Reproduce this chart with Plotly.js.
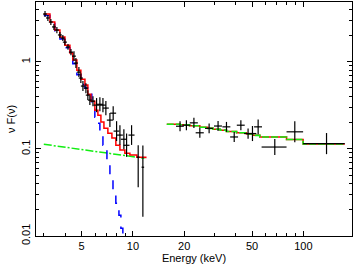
<!DOCTYPE html>
<html><head><meta charset="utf-8">
<script src="https://cdn.plot.ly/plotly-3.0.1.min.js"></script>
<style>html,body{margin:0;padding:0;background:#fff}#c{width:354px;height:265px}</style>
</head><body><div id="c"></div>
<script>
// Low-energy data
const lowE = [3.05,3.17,3.30,3.44,3.58,3.73,3.88,3.99,4.16,4.33,4.51,4.63,4.82,4.95,5.09,5.30,5.44,5.59,5.83,6.12,6.40,6.67,6.94,7.33,7.66,8.02,8.39,8.85,9.18,9.82,10.74,11.44];
const lowF = [3.53,3.18,2.86,2.51,2.31,2.03,1.87,1.68,1.48,1.29,1.16,0.966,0.761,0.650,0.526,0.498,0.414,0.363,0.353,0.318,0.325,0.318,0.294,0.214,0.257,0.160,0.144,0.129,0.110,0.144,0.0803,0.0616];
const lowErrUp = [0.29,0.26,0.24,0.21,0.19,0.17,0.16,0.14,0.12,0.11,0.16,0.14,0.11,0.09,0.074,0.07,0.058,0.051,0.05,0.065,0.066,0.065,0.06,0.044,0.052,0.048,0.043,0.039,0.04,0.043,0.030,0.048];
const lowErrDn = [0.27,0.24,0.22,0.19,0.18,0.16,0.14,0.13,0.11,0.10,0.14,0.12,0.094,0.08,0.065,0.062,0.051,0.045,0.044,0.054,0.055,0.054,0.05,0.036,0.044,0.037,0.033,0.030,0.029,0.033,0.044,0.045];
const lowEw = [0.08,0.08,0.09,0.09,0.1,0.1,0.1,0.11,0.11,0.12,0.12,0.13,0.13,0.14,0.14,0.15,0.15,0.15,0.16,0.25,0.26,0.27,0.28,0.3,0.31,0.32,0.34,0.36,0.37,0.4,0.2,0.2];

// High-energy data
const hiE = [18.9,20.6,22.8,24.7,28.0,31.6,35.4,39.3,43.0,47.4,50.3,54.3,68.0,89.1,136.8];
const hiF = [0.182,0.187,0.199,0.153,0.172,0.183,0.179,0.137,0.187,0.150,0.150,0.179,0.105,0.157,0.115];
const hiErrUp = [0.026,0.026,0.028,0.021,0.024,0.026,0.025,0.019,0.026,0.021,0.033,0.039,0.025,0.05,0.037];
const hiErrDn = [0.023,0.023,0.025,0.019,0.021,0.023,0.022,0.017,0.023,0.019,0.027,0.032,0.020,0.038,0.028];
const hiEwPlus = [1.0,1.1,1.25,1.35,1.5,1.7,1.9,2.1,2.3,2.5,2.7,2.9,11.7,10.6,38.2];
const hiEwMinus = [1.0,1.1,1.25,1.35,1.5,1.7,1.9,2.1,2.3,2.5,2.7,2.9,11.1,9.4,37.1];

// Models
const redE = [3.0,3.26,3.48,3.73,3.99,4.27,4.44,4.69,4.95,5.23,5.44,5.67,5.98,6.23,6.49,6.76,7.13,7.53,7.94,8.39,8.97,9.60,10.55,11.9];
const redF = [3.53,2.86,2.31,1.92,1.55,1.26,1.05,0.80,0.63,0.54,0.425,0.353,0.278,0.244,0.203,0.173,0.151,0.133,0.110,0.097,0.089,0.085,0.080,0.078];
const blueE = [3.0,3.26,3.48,3.73,3.99,4.27,4.44,4.69,4.95,5.23,5.44,5.74,5.98,6.15,6.40,6.67,7.04,7.33,7.64,7.94,8.28,8.50,8.73];
const blueF = [3.40,2.75,2.20,1.82,1.45,1.16,0.95,0.71,0.55,0.50,0.437,0.318,0.231,0.197,0.144,0.110,0.074,0.050,0.0335,0.0238,0.0173,0.0123,0.0094];
const greenLowE = [3.0,5.0,8.0,11.7];
const greenLowF = [0.113,0.098,0.087,0.078];
const hiModelE = [15.8,18.9,21.5,24.7,27.5,29.6,32.5,35.4,40.6,46.4,50.5,55.6,79.7,99.7,175];
const hiModelF = [0.192,0.189,0.184,0.177,0.172,0.168,0.164,0.158,0.153,0.148,0.143,0.137,0.128,0.114,0.114];

// Axis ticks
const xTickVals = [5,10,20,50,100];
const xTickText = ['5','10','20','50','100'];
const xMinor = [3,4,6,7,8,9,30,40,60,70,80,90];
const yTickVals = [0.01,0.1,1];
const yTickText = ['0.01','0.1','1'];
const yMinor = [0.02,0.03,0.04,0.05,0.06,0.07,0.08,0.09,0.2,0.3,0.4,0.5,0.6,0.7,0.8,0.9,2,3,4];

const RED='#ff0000', BLUE='#0000ff', GREEN='#11ee11';
const traces = [
  {x:greenLowE,y:greenLowF,mode:'lines',line:{color:GREEN,width:1.5,dash:'8px,2px,2px,2px'},hoverinfo:'skip'},
  {x:blueE,y:blueF,mode:'lines',line:{color:BLUE,width:1.5,dash:'dash',shape:'hv'},hoverinfo:'skip'},
  {x:redE,y:redF,mode:'lines',line:{color:RED,width:1.5,shape:'hv'},hoverinfo:'skip'},
  {x:hiModelE,y:hiModelF,mode:'lines',line:{color:RED,width:1.5,shape:'hv'},hoverinfo:'skip'},
  {x:hiModelE,y:hiModelF,mode:'lines',line:{color:GREEN,width:1.6,shape:'hv',dash:'7px,2px'},hoverinfo:'skip'},
  {x:lowE,y:lowF,mode:'markers',marker:{size:1,color:'#000'},
   error_y:{type:'data',symmetric:false,array:lowErrUp,arrayminus:lowErrDn,color:'#000',thickness:1.2,width:0},
   error_x:{type:'data',array:lowEw,color:'#000',thickness:1.2,width:0}},
  {x:hiE,y:hiF,mode:'markers',marker:{size:1,color:'#000'},
   error_y:{type:'data',symmetric:false,array:hiErrUp,arrayminus:hiErrDn,color:'#000',thickness:1.2,width:0},
   error_x:{type:'data',symmetric:false,array:hiEwPlus,arrayminus:hiEwMinus,color:'#000',thickness:1.2,width:0}}
];
const font = {family:'Liberation Sans, Arial, sans-serif',size:11,color:'#000'};
const layout = {
  width:354,height:265,showlegend:false,
  margin:{l:36,r:2,t:2,b:29,pad:0},
  paper_bgcolor:'#fff',plot_bgcolor:'#fff',font:font,
  xaxis:{type:'log',range:[Math.log10(2.7),Math.log10(193)],tickvals:xTickVals,ticktext:xTickText,
    ticks:'inside',ticklen:5,tickwidth:1,tickcolor:'#000',showline:true,linecolor:'#000',linewidth:1.2,mirror:'allticks',
    showgrid:false,zeroline:false,tickfont:font,
    minor:{tickvals:xMinor,ticks:'inside',ticklen:3,tickwidth:1,tickcolor:'#000',showgrid:false},
    title:{text:'Energy (keV)',font:font,standoff:2}},
  yaxis:{type:'log',range:[-2,0.686],tickvals:yTickVals,ticktext:yTickText,tickangle:-90,
    ticks:'inside',ticklen:5,tickwidth:1,tickcolor:'#000',showline:true,linecolor:'#000',linewidth:1.2,mirror:'allticks',
    showgrid:false,zeroline:false,tickfont:font,
    minor:{tickvals:yMinor,ticks:'inside',ticklen:3,tickwidth:1,tickcolor:'#000',showgrid:false},
    title:{text:'ν F(ν)',font:font,standoff:2}}
};
Plotly.newPlot('c',traces,layout,{staticPlot:true,displayModeBar:false});
</script></body></html>
